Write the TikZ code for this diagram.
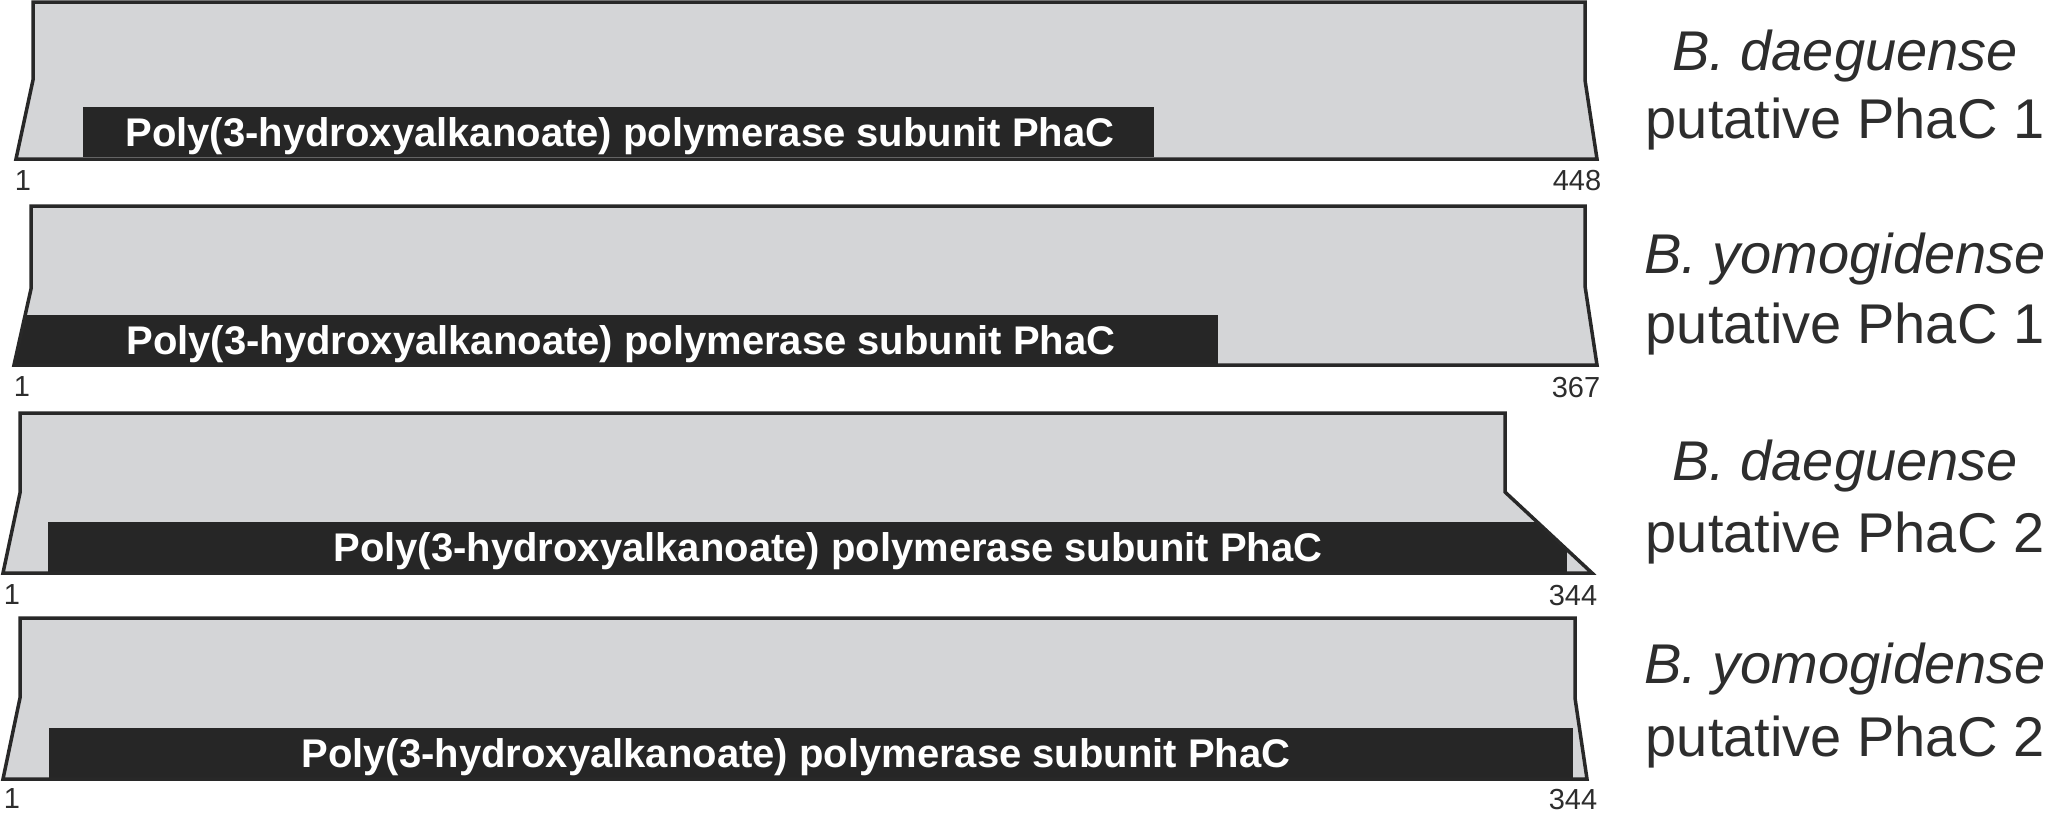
\documentclass[tikz,border=0pt]{standalone}
\usepackage{fontspec}
\setmainfont{Liberation Sans}
\definecolor{boxfill}{RGB}{212,213,215}
\definecolor{boxline}{RGB}{40,40,40}
\definecolor{barcol}{RGB}{38,38,38}
\definecolor{txt}{RGB}{45,45,45}
\tikzset{
  boxstroke/.style={draw=boxline, line width=3.5pt, line join=miter},
  boxpaint/.style={fill=boxfill},
  barpaint/.style={fill=barcol},
  bartext/.style={text=white, font=\fontsize{40}{44}\selectfont\bfseries, anchor=base, inner sep=0pt},
  numtext/.style={text=txt, font=\fontsize{29}{31}\selectfont, anchor=center, inner sep=0pt},
  spname/.style={text=txt, font=\fontsize{56}{60}\selectfont\itshape, anchor=base, inner sep=0pt},
  sptype/.style={text=txt, font=\fontsize{56}{60}\selectfont, anchor=base, inner sep=0pt},
}
\begin{document}
\begin{tikzpicture}[x=1pt,y=-1pt]
\useasboundingbox (0,0) rectangle (2056,812);
% ---------- panel 1 ----------
\def\pA{(33,2) -- (1585,2) -- (1585,80) -- (1597,159) -- (16,159) -- (33,80) -- cycle}
\path[boxpaint] \pA;
\begin{scope}\clip \pA; \fill[barcol] (83,107) rectangle (1154,157); \end{scope}
\path[boxstroke] \pA;
\node[bartext] (t1) at (620,146) {Poly(3-hydroxyalkanoate) polymerase subunit PhaC};
\node[numtext] (s1) at (23,181) {1};
\node[numtext] (e1) at (1577,181) {448};
\node[spname] (n1) at (1845,70) {B. daeguense};
\node[sptype] (p1) at (1845,138) {putative PhaC 1};
% ---------- panel 2 ----------
\def\pB{(31,206) -- (1585,206) -- (1585,286) -- (1597,365) -- (14,365) -- (31,289) -- cycle}
\path[boxpaint] \pB;
\begin{scope}\clip \pB; \fill[barcol] (0,315) rectangle (1218,364); \end{scope}
\path[boxstroke] \pB;
\node[bartext] (t2) at (621,354) {Poly(3-hydroxyalkanoate) polymerase subunit PhaC};
\node[numtext] (s2) at (22,387) {1};
\node[numtext] (e2) at (1576,388) {367};
\node[spname] (n2) at (1845,273) {B. yomogidense};
\node[sptype] (p2) at (1845,343) {putative PhaC 1};
% ---------- panel 3 ----------
\def\pC{(20,413) -- (1505,413) -- (1505,492) -- (1592,573) -- (3,573) -- (20,493) -- cycle}
\path[boxpaint] \pC;
\begin{scope}\clip \pC; \fill[barcol] (48,522) rectangle (1567,572); \end{scope}
\path[boxstroke] \pC;
\node[bartext] (t3) at (828,561) {Poly(3-hydroxyalkanoate) polymerase subunit PhaC};
\node[numtext] (s3) at (12,595) {1};
\node[numtext] (e3) at (1573,596) {344};
\node[spname] (n3) at (1845,480) {B. daeguense};
\node[sptype] (p3) at (1845,552) {putative PhaC 2};
% ---------- panel 4 ----------
\def\pD{(20,618) -- (1575,618) -- (1575,698) -- (1587,779) -- (3,779) -- (20,698) -- cycle}
\path[boxpaint] \pD;
\begin{scope}\clip \pD; \fill[barcol] (49,728) rectangle (1573,778); \end{scope}
\path[boxstroke] \pD;
\node[bartext] (t4) at (796,767) {Poly(3-hydroxyalkanoate) polymerase subunit PhaC};
\node[numtext] (s4) at (12,799) {1};
\node[numtext] (e4) at (1573,800) {344};
\node[spname] (n4) at (1845,683) {B. yomogidense};
\node[sptype] (p4) at (1845,756) {putative PhaC 2};
\end{tikzpicture}
\end{document}
